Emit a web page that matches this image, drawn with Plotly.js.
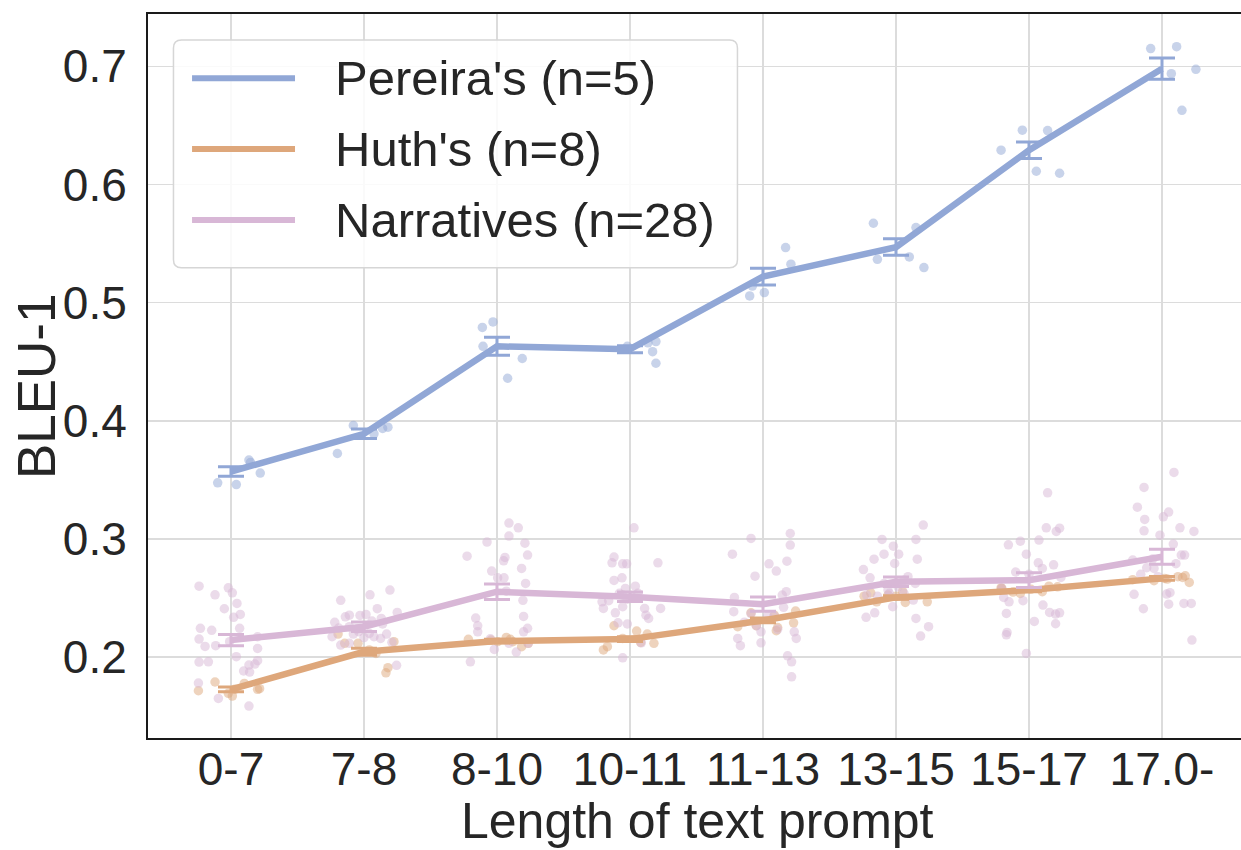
<!DOCTYPE html>
<html>
<head>
<meta charset="utf-8">
<script src="https://cdn.plot.ly/plotly-3.0.1.min.js"></script>
<style>html,body{margin:0;padding:0;background:#fff;}#chart{width:1241px;height:850px;}</style>
</head>
<body>
<div id="chart"></div>
<script>
// ---- data ----
const categories = ['0-7', '7-8', '8-10', '10-11', '11-13', '13-15', '15-17', '17.0-'];
const seriesNames = ["Pereira's (n=5)", "Huth's (n=8)", "Narratives (n=28)"];
const xTitle = 'Length of text prompt';
const yTitle = 'BLEU-1';

const pereiraMean = [0.357, 0.389, 0.463, 0.4606, 0.522, 0.547, 0.629, 0.698];
const pereiraErr  = [0.004, 0.004, 0.0076, 0.003, 0.007, 0.007, 0.007, 0.009];
const huthMean = [0.1727, 0.2045, 0.2135, 0.2152, 0.231, 0.2505, 0.2567, 0.2666];
const huthErr  = [0.002, 0.003, 0.0015, 0.002, 0.002, 0.0015, 0.0015, 0.0015];
const narrMean = [0.2144, 0.2257, 0.2553, 0.251, 0.2448, 0.2637, 0.2651, 0.2849];
const narrErr  = [0.0048, 0.004, 0.0066, 0.004, 0.006, 0.004, 0.0063, 0.0063];

// per-subject points: [jitter (category units), value]
const pereiraPts = [
  [[-0.10,0.3475],[0.04,0.346],[0.135,0.3667],[0.147,0.3647],[0.22,0.3557]],
  [[-0.2,0.3723],[-0.08,0.396],[0.075,0.389],[0.14,0.3935],[0.18,0.3946]],
  [[-0.11,0.479],[-0.03,0.4837],[-0.105,0.463],[0.19,0.4527],[0.08,0.436]],
  [[-0.02,0.463],[0.135,0.466],[0.195,0.467],[0.17,0.4585],[0.195,0.4487]],
  [[-0.1,0.5057],[0.01,0.5085],[-0.08,0.514],[0.17,0.5466],[0.21,0.5325]],
  [[-0.17,0.5672],[-0.14,0.5367],[0.1,0.5387],[0.21,0.5297],[0.15,0.5635]],
  [[-0.21,0.629],[-0.05,0.646],[0.14,0.6456],[0.055,0.6112],[0.23,0.6095]],
  [[-0.085,0.715],[0.11,0.7166],[0.07,0.6938],[0.255,0.6975],[0.15,0.6628]]
];
const huthPts = [
  [[-0.245,0.1715],[-0.12,0.1789],[-0.02,0.1693],[0.01,0.167],[0.10,0.1777],[0.2,0.1727],[0.215,0.1732],[0.03,0.1727]],
  [[-0.195,0.2195],[-0.145,0.2116],[0.225,0.213],[0.165,0.1867],[0.18,0.191],[-0.045,0.2116],[0.04,0.206],[0.09,0.2031]],
  [[-0.215,0.215],[-0.045,0.2144],[0.005,0.213],[0.07,0.2166],[0.1,0.215],[0.185,0.2088],[0.235,0.2116],[0.12,0.213]],
  [[-0.12,0.2265],[-0.2,0.206],[-0.17,0.2088],[-0.055,0.2158],[0.05,0.222],[0.13,0.2195],[0.18,0.2116],[0.08,0.2124]],
  [[-0.09,0.2375],[0.085,0.2355],[0.1,0.2223],[0.11,0.225],[0.245,0.2389],[0.23,0.229],[-0.19,0.2257],[-0.05,0.2265]],
  [[-0.19,0.2544],[-0.145,0.2468],[0.05,0.2553],[0.07,0.2462],[0.235,0.2468],[-0.06,0.2525],[0.0,0.2515],[-0.24,0.2515]],
  [[-0.21,0.2585],[-0.065,0.2539],[0.015,0.2573],[0.1,0.2553],[0.15,0.26],[0.215,0.2595],[-0.205,0.2581],[-0.12,0.255]],
  [[-0.06,0.2646],[0.02,0.2666],[0.04,0.266],[0.12,0.268],[0.155,0.2674],[0.175,0.2688],[0.205,0.2632],[-0.22,0.2655]]
];
const narrPts = [
  [[-0.24,0.260],[-0.12,0.2527],[-0.02,0.2586],[0.01,0.2544],[0.045,0.2454],[-0.05,0.2409],[0.07,0.2361],[0.02,0.2336],
   [-0.23,0.2243],[-0.145,0.2226],[0.065,0.2243],[-0.24,0.2152],[-0.195,0.209],[-0.115,0.2096],[-0.01,0.213],[0.2,0.2073],
   [0.04,0.2003],[-0.24,0.1958],[-0.17,0.196],[0.2,0.1969],[0.18,0.1941],[0.135,0.1932],[0.095,0.1882],[0.14,0.1873],
   [-0.245,0.178],[-0.095,0.165],[0.135,0.1585],[0.2,0.2172]],
  [[-0.175,0.248],[0.045,0.2527],[0.195,0.2567],[-0.22,0.2294],[-0.14,0.2341],[-0.11,0.2355],[-0.03,0.2352],[0.015,0.2361],
   [0.13,0.2327],[0.25,0.2378],[-0.11,0.2257],[-0.05,0.2237],[0.14,0.228],[-0.24,0.2172],[-0.175,0.2102],[-0.11,0.2116],
   [-0.04,0.2215],[0.04,0.22],[0.075,0.2172],[0.125,0.2158],[0.17,0.2195],[0.245,0.193],[0.06,0.2305],[-0.08,0.2195],
   [0.21,0.2125],[-0.19,0.2245],[0.1,0.241],[0.0,0.2165]],
  [[-0.225,0.2854],[-0.075,0.2973],[0.09,0.3134],[0.16,0.3094],[0.09,0.3024],[0.21,0.2964],[0.23,0.2863],[0.06,0.2843],
   [0.05,0.2815],[0.185,0.275],[-0.04,0.2728],[0.005,0.2671],[0.053,0.2671],[0.215,0.2623],[0.07,0.2558],[0.195,0.248],
   [-0.16,0.233],[-0.145,0.2265],[-0.145,0.2214],[0.2,0.2344],[0.23,0.2243],[0.2,0.2214],[-0.05,0.2155],[-0.02,0.2065],
   [0.09,0.2116],[0.145,0.2042],[-0.2,0.196],[0.235,0.2116]],
  [[0.03,0.3094],[-0.12,0.2846],[-0.135,0.2798],[-0.055,0.2789],[-0.025,0.2789],[0.21,0.2798],[-0.12,0.2649],[-0.06,0.2671],
   [-0.035,0.2581],[0.04,0.26],[-0.055,0.2525],[-0.21,0.2468],[-0.16,0.2477],[-0.2,0.2412],[-0.055,0.2426],[0.11,0.2412],
   [0.23,0.2412],[-0.11,0.2375],[0.12,0.2355],[0.14,0.2327],[-0.09,0.229],[-0.02,0.228],[0.085,0.2121],[-0.055,0.1994],
   [-0.02,0.249],[0.06,0.254],[0.02,0.2505],[-0.08,0.254]],
  [[-0.23,0.2871],[-0.09,0.3004],[0.205,0.3046],[0.205,0.2948],[0.045,0.2789],[0.1,0.2728],[0.18,0.2812],[-0.06,0.2685],
   [0.145,0.2525],[0.175,0.2553],[-0.215,0.2505],[-0.22,0.2384],[0.155,0.2421],[-0.015,0.2214],[-0.19,0.2158],[-0.17,0.2096],
   [-0.015,0.2121],[0.235,0.2214],[0.25,0.2158],[0.185,0.2011],[0.215,0.196],[0.215,0.1833],[0.035,0.2347],[0.085,0.2347],
   [-0.09,0.2367],[-0.05,0.2265],[0.11,0.2235],[-0.14,0.2295]],
  [[-0.105,0.2996],[-0.02,0.2939],[0.205,0.3117],[0.15,0.2996],[0.02,0.2871],[-0.09,0.2871],[-0.165,0.2829],[0.16,0.2829],
   [-0.01,0.2792],[-0.245,0.2741],[-0.195,0.2671],[-0.06,0.2567],[0.145,0.2623],[-0.22,0.2525],[0.13,0.2482],[-0.025,0.2426],
   [-0.16,0.2375],[-0.225,0.2336],[0.15,0.2327],[0.245,0.2257],[0.185,0.2178],[0.06,0.265],[0.015,0.2595],[-0.05,0.254],
   [-0.14,0.2515],[0.06,0.254],[-0.09,0.2623],[0.09,0.268]],
  [[0.14,0.339],[-0.155,0.295],[-0.065,0.2981],[0.075,0.299],[0.13,0.3094],[0.205,0.3063],[0.23,0.3091],[-0.02,0.2871],
   [0.07,0.2798],[0.185,0.2781],[0.24,0.2674],[-0.205,0.2581],[-0.19,0.2505],[-0.15,0.2468],[-0.045,0.2477],[0.105,0.244],
   [0.155,0.2378],[0.2,0.2364],[0.23,0.2375],[0.04,0.2302],[0.2,0.2282],[-0.17,0.2369],[-0.165,0.2209],[-0.17,0.2188],
   [-0.02,0.2031],[0.0,0.27],[-0.1,0.272],[0.1,0.275]],
  [[0.09,0.3563],[-0.135,0.3436],[-0.185,0.3269],[-0.13,0.3165],[0.01,0.3187],[0.05,0.3227],[-0.135,0.3069],[-0.015,0.3032],
   [0.135,0.3094],[0.24,0.3063],[0.085,0.2956],[0.145,0.2863],[0.17,0.2863],[-0.22,0.2821],[-0.115,0.2756],[-0.06,0.275],
   [-0.16,0.27],[-0.03,0.268],[-0.21,0.2531],[0.035,0.2533],[0.06,0.2545],[-0.14,0.2409],[0.05,0.2448],[0.165,0.2454],
   [0.22,0.2454],[0.225,0.2144],[-0.07,0.283],[0.105,0.279]]
];

// ---- styling ----
const colors = ['#91a7d6', '#dea77b', '#d8b7d6'];
const FONT = 'Liberation Sans, Arial, Helvetica, sans-serif';
const TEXT = '#262626';

function pointsTrace(pts, color) {
  const x = [], y = [];
  pts.forEach((cat, i) => cat.forEach(([dx, v]) => { x.push(i + dx); y.push(v); }));
  return {type: 'scatter', mode: 'markers', x: x, y: y, showlegend: false, hoverinfo: 'skip',
    marker: {size: 9.5, color: color, opacity: 0.5, line: {width: 0}}};
}
function meanTrace(name, means, errs, color) {
  return {type: 'scatter', mode: 'lines', name: name, x: categories.map((_, i) => i), y: means,
    line: {color: color, width: 6.5}, showlegend: false,
    error_y: {type: 'data', array: errs, visible: true, color: color, thickness: 3, width: 13}};
}

const traces = [
  pointsTrace(pereiraPts, colors[0]),
  pointsTrace(huthPts, colors[1]),
  pointsTrace(narrPts, colors[2]),
  meanTrace(seriesNames[0], pereiraMean, pereiraErr, colors[0]),
  meanTrace(seriesNames[1], huthMean, huthErr, colors[1]),
  meanTrace(seriesNames[2], narrMean, narrErr, colors[2])
];

// custom legend (box, long line swatches, labels) in paper coordinates
const W = 1093, H = 724;
const bx0 = 0.0233, bx1 = 0.5393, by0 = 0.6496, by1 = 0.9641;
const rx = 8 / W, ry = 8 / H;
const boxPath = `M ${bx0 + rx} ${by1} L ${bx1 - rx} ${by1} Q ${bx1} ${by1} ${bx1} ${by1 - ry} ` +
  `L ${bx1} ${by0 + ry} Q ${bx1} ${by0} ${bx1 - rx} ${by0} L ${bx0 + rx} ${by0} Q ${bx0} ${by0} ${bx0} ${by0 + ry} ` +
  `L ${bx0} ${by1 - ry} Q ${bx0} ${by1} ${bx0 + rx} ${by1} Z`;
const rowsY = [0.9112, 0.8135, 0.7155];
const shapes = [{type: 'path', xref: 'paper', yref: 'paper', path: boxPath,
  fillcolor: 'rgba(255,255,255,0.85)', line: {color: '#d6d6d6', width: 1.5}}];
const annotations = [];
seriesNames.forEach((n, i) => {
  shapes.push({type: 'line', xref: 'paper', yref: 'paper', x0: 0.0403, x1: 0.1345, y0: rowsY[i], y1: rowsY[i],
    line: {color: colors[i], width: 6}});
  annotations.push({xref: 'paper', yref: 'paper', x: 0.169, y: rowsY[i], xanchor: 'left', yanchor: 'middle',
    text: n, showarrow: false, font: {family: FONT, size: 49, color: TEXT}});
});
// axis titles
annotations.push({xref: 'paper', yref: 'paper', x: 0.503, y: -0.1146, xanchor: 'center', yanchor: 'middle',
  text: xTitle, showarrow: false, font: {family: FONT, size: 50, color: TEXT}});
annotations.push({xref: 'paper', yref: 'paper', x: -0.1025, y: 0.486, xanchor: 'center', yanchor: 'middle',
  textangle: -90, text: yTitle, showarrow: false, font: {family: FONT, size: 53, color: TEXT}});

const layout = {
  width: 1241, height: 850,
  margin: {l: 148, r: 0, t: 14, b: 112, pad: 0},
  paper_bgcolor: '#ffffff', plot_bgcolor: '#ffffff',
  font: {family: FONT, color: TEXT},
  showlegend: false,
  xaxis: {
    range: [-0.624, 7.594], tickmode: 'array', tickvals: categories.map((_, i) => i), ticktext: categories,
    showgrid: true, gridcolor: '#dcdcdc', gridwidth: 1.5, zeroline: false,
    showline: true, linecolor: '#1a1a1a', linewidth: 2, mirror: true, ticks: '', ticklen: 0,
    tickfont: {family: FONT, size: 46, color: TEXT}, ticklabelstandoff: -10
  },
  yaxis: {
    range: [0.1315, 0.7443], tickmode: 'array', tickvals: [0.2, 0.3, 0.4, 0.5, 0.6, 0.7],
    ticktext: ['0.2', '0.3', '0.4', '0.5', '0.6', '0.7'],
    showgrid: true, gridcolor: '#dcdcdc', gridwidth: 1.5, zeroline: false,
    showline: true, linecolor: '#1a1a1a', linewidth: 2, mirror: false, ticks: '', ticklen: 0,
    tickfont: {family: FONT, size: 46, color: TEXT}, ticklabelstandoff: 10
  },
  shapes: shapes,
  annotations: annotations
};

Plotly.newPlot('chart', traces, layout, {displayModeBar: false, staticPlot: true});
</script>
</body>
</html>
